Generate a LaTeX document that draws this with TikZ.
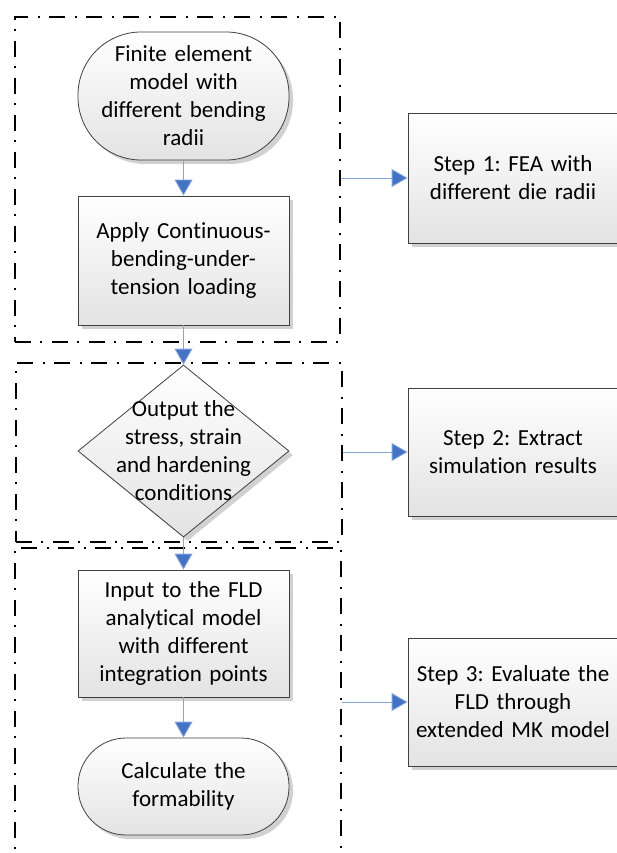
\documentclass[tikz,border=0pt]{standalone}
\usepackage{fontspec}
\setmainfont[Ligatures=CommonOff]{Carlito}
\usetikzlibrary{arrows.meta,shapes.geometric,shadows}
\definecolor{arrblue}{HTML}{4472C4}
\definecolor{edge}{HTML}{404040}
\tikzset{
  flowbase/.style={draw=edge, line width=0.8pt, top color=white, bottom color=gray!22,
    drop shadow={shadow xshift=4pt, shadow yshift=-4pt, fill=gray!45, opacity=0.8},
    inner sep=0pt, font=\fontsize{23}{28}\selectfont\frenchspacing, text=black},
  flowshape/.style={flowbase, text width=205pt, align=center},
  termbox/.style={flowshape, rectangle, minimum width=211pt},
  procbox/.style={flowshape, rectangle, minimum width=211pt},
  stepbox/.style={flowbase, rectangle, minimum width=210pt, text width=208pt, align=center},
  groupbox/.style={draw=black, line width=2pt, dash pattern=on 16pt off 9pt on 2pt off 10pt, rectangle, inner sep=0pt},
  conn/.style={draw=arrblue!65, line width=0.9pt, -{Triangle[length=16pt,width=18pt,fill=arrblue]}},
}
\begin{document}
\begin{tikzpicture}[x=1pt,y=-1pt]
\useasboundingbox (0,0) rectangle (617,853);
% group boxes
\node[groupbox, minimum width=325pt, minimum height=325pt] (g1) at (177.5,179.5) {};
\node[groupbox, minimum width=326pt, minimum height=179pt] (g2) at (179,452.5) {};
\node[groupbox, minimum width=326pt, minimum height=332pt] (g3) at (178,714) {};
% flow nodes
\node[termbox, minimum height=128pt, rounded corners=63pt] (t1) at (183.5,96) {Finite element\\model with\\different bending\\radii};
\node[procbox, minimum height=129pt] (r1) at (183.5,260.5) {Apply Continuous-\\bending-under-\\tension loading};
\node[flowbase, shape=diamond, minimum width=211pt, minimum height=172pt,
  label={[align=center, font=\fontsize{23}{28}\selectfont, text=black]center:Output the\\stress, strain\\and hardening\\conditions}] (d1) at (183.5,451) {};
\node[procbox, minimum height=127pt] (r3) at (183.5,633.5) {Input to the FLD\\analytical model\\with different\\integration points};
\node[termbox, minimum height=97pt, rounded corners=48pt] (t2) at (183.5,786.5) {Calculate the\\formability};
% step boxes
\node[stepbox, minimum height=130pt] (s1) at (513,178) {Step 1: FEA with\\different die radii};
\node[stepbox, minimum height=128pt] (s2) at (513,452) {Step 2: Extract\\simulation results};
\node[stepbox, minimum height=128pt] (s3) at (513,702) {Step 3: Evaluate the\\FLD through\\extended MK model};
% connectors
\draw[conn] (t1.south) -- (r1.north);
\draw[conn] (r1.south) -- (d1.north);
\draw[conn] (d1.south) -- (r3.north);
\draw[conn] (r3.south) -- (t2.north);
\draw[conn] (g1.east |- s1.west) -- (s1.west);
\draw[conn] (g2.east |- s2.west) -- (s2.west);
\draw[conn] (g3.east |- s3.west) -- (s3.west);
\end{tikzpicture}
\end{document}
